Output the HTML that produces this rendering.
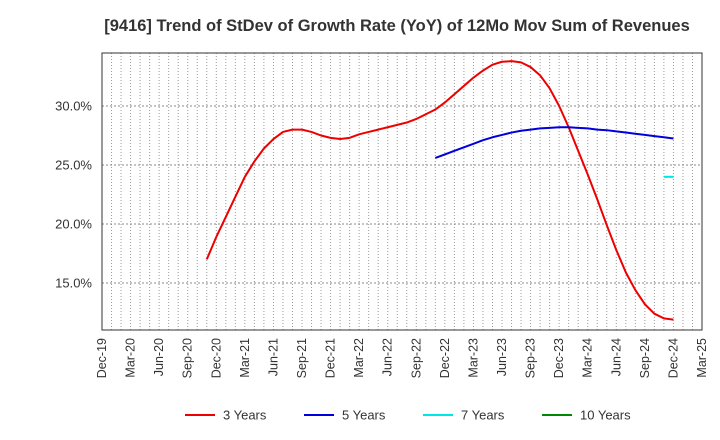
<!DOCTYPE html>
<html><head><meta charset="utf-8"><style>
body{margin:0;background:#fff;}
svg{display:block;font-family:"Liberation Sans",Arial,sans-serif;}
</style></head><body>
<svg id="chart" width="720" height="440">
<text x="397" y="31" text-anchor="middle" font-size="16.5" font-weight="bold" fill="#333">[9416]  Trend of StDev of Growth Rate (YoY) of 12Mo Mov Sum of Revenues</text>
<g id="grid"></g><g id="axes"></g><g id="series"></g>
<g id="legend"></g>
</svg>
<script>
const xLabels=["Dec-19","Mar-20","Jun-20","Sep-20","Dec-20","Mar-21","Jun-21","Sep-21","Dec-21","Mar-22","Jun-22","Sep-22","Dec-22","Mar-23","Jun-23","Sep-23","Dec-23","Mar-24","Jun-24","Sep-24","Dec-24","Mar-25"];
const yTicks=[15,20,25,30];
const red3=[17.0,18.9,20.6,22.3,24.0,25.3,26.4,27.2,27.8,28.0,28.0,27.8,27.5,27.3,27.2,27.3,27.6,27.8,28.0,28.2,28.4,28.6,28.9,29.3,29.7,30.3,31.0,31.7,32.4,33.0,33.5,33.75,33.8,33.7,33.3,32.6,31.5,30.0,28.2,26.2,24.2,22.1,19.9,17.8,15.9,14.4,13.2,12.4,12.0,11.9];
const red3Start=11;
const blue5=[25.6,25.9,26.2,26.5,26.8,27.1,27.35,27.55,27.75,27.9,28.0,28.1,28.15,28.2,28.2,28.15,28.1,28.0,27.95,27.85,27.75,27.65,27.55,27.45,27.35,27.25];
const blue5Start=35;
const cyan7=[24.0,24.0];
const cyan7Start=59;
const green10=[];
const L=102,R=702,T=53,B=330;
const x=m=>L+m*(R-L)/63;
const y=v=>106+(30-v)*11.8;
const NS="http://www.w3.org/2000/svg";
function mk(tag,attrs,parent){const e=document.createElementNS(NS,tag);for(const k in attrs)e.setAttribute(k,attrs[k]);parent.appendChild(e);return e;}
const grid=document.getElementById('grid'),axes=document.getElementById('axes'),series=document.getElementById('series'),legend=document.getElementById('legend');
for(let m=1;m<63;m++){const l=mk('line',{x1:x(m),x2:x(m),y1:T,y2:B,stroke:'#999','stroke-width':1,'stroke-dasharray':'1,2'},grid);

}
yTicks.forEach(v=>{const l=mk('line',{x1:L,x2:R,y1:y(v),y2:y(v),stroke:'#888','stroke-width':1,'stroke-dasharray':'2,2'},grid);


const t=mk('text',{x:L-10,y:y(v)+4.5,'text-anchor':'end','font-size':13,fill:'#333'},axes);t.textContent=v.toFixed(1)+'%';

});
const fr=mk('rect',{x:L,y:T,width:R-L,height:B-T,fill:'none',stroke:'#333','stroke-width':1},axes);


xLabels.forEach((s,i)=>{const xx=x(i*3);const t=mk('text',{x:0,y:0,'text-anchor':'end','font-size':12.5,fill:'#333',transform:`translate(${xx+4},${B+8}) rotate(-90)`},axes);t.textContent=s;

});
function line(data,start,color,name){if(!data.length)return;const p=mk('polyline',{points:data.map((v,i)=>x(start+i)+','+y(v)).join(' '),fill:'none',stroke:color,'stroke-width':2,'stroke-linejoin':'round'},series);

}
line(red3,red3Start,'#ee0000','series-3-years');
line(blue5,blue5Start,'#0000dd','series-5-years');
line(cyan7,cyan7Start,'#00e5e5','series-7-years');
line(green10,0,'#008800','series-10-years');
const items=[["3 Years","#ee0000",185],["5 Years","#0000dd",304],["7 Years","#00e5e5",423],["10 Years","#008800",542]];
items.forEach(([s,c,lx])=>{const g=mk('g',{},legend);


mk('line',{x1:lx,x2:lx+30,y1:415,y2:415,stroke:c,'stroke-width':2},g);
const t=mk('text',{x:lx+38,y:419.5,'font-size':13,fill:'#333'},g);t.textContent=s;});
</script>
</body></html>
